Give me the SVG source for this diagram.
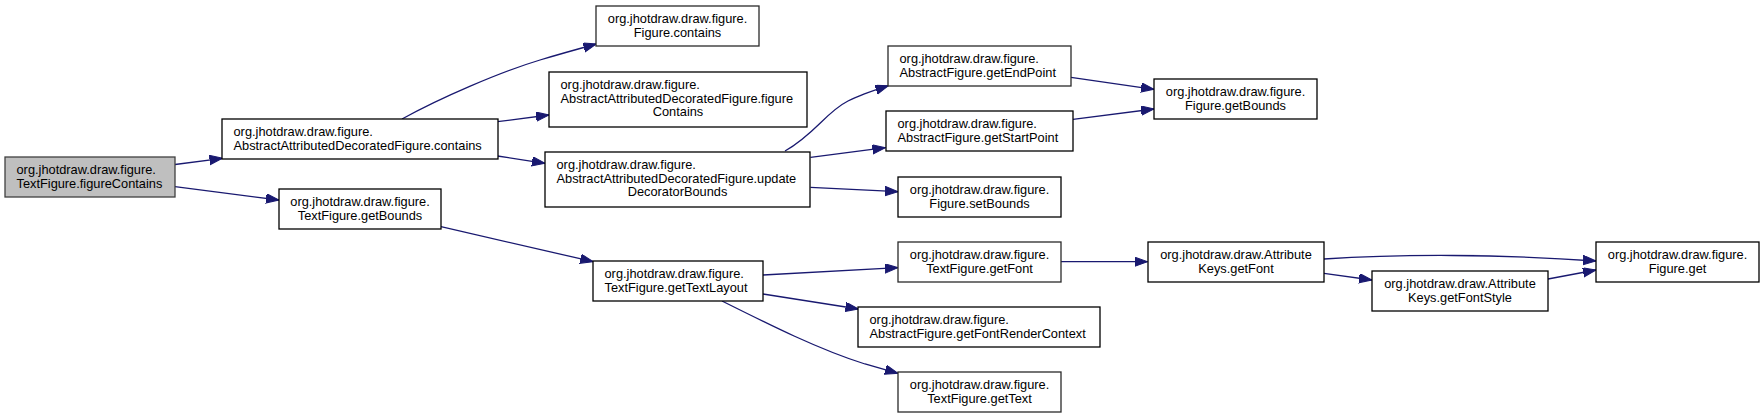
<svg xmlns="http://www.w3.org/2000/svg" width="1764" height="419" viewBox="0 0 1764 419">
<style>
.n rect{fill:#fff;stroke:#000;stroke-width:1.3}
.n.g rect{stroke:#2a2a2a}
.n.root rect{fill:#bfbfbf;stroke:#404040}
.n text{font-family:"Liberation Sans",Arial,sans-serif;font-size:12.8px;fill:#000}
.c{text-anchor:middle}
#edges path{fill:none;stroke:#191970;stroke-width:1.3;marker-end:url(#arr)}
</style>
<defs>
<marker id="arr" markerWidth="15" markerHeight="11" refX="13" refY="4.7" orient="auto" markerUnits="userSpaceOnUse">
<path d="M0,0 L13,4.7 L0,9.4 z" fill="#191970" stroke="#191970" stroke-width="1"/>
</marker>
</defs>
<rect width="1764" height="419" fill="#fff"/>
<g id="edges">
<path d="M175,164.5 L222.5,158.3"/>
<path d="M175,186.7 L279,200"/>
<path d="M402,119 C440,98 500,72 540,60 C560,54 578,49 596.4,44"/>
<path d="M497.5,121.7 L549,115"/>
<path d="M497.5,156 L545,163.3"/>
<path d="M441,226.7 L593.2,261.7"/>
<path d="M785,151 C815,134 826,112 848,101 C858,96 872,91 888.4,85.7"/>
<path d="M810.5,157.3 L885.4,147.7"/>
<path d="M810.5,187.3 L898,191.7"/>
<path d="M1071,77.3 L1154,89.3"/>
<path d="M1073,119.3 L1154,109"/>
<path d="M763,275 L898,267.7"/>
<path d="M763,294 L858.5,309"/>
<path d="M722,301 C770,325 820,350 865,364 L898,373.3"/>
<path d="M1060.7,261.7 L1147.5,261.7"/>
<path d="M1324,259 C1400,254 1500,254 1596,261"/>
<path d="M1324,273.3 L1372,280"/>
<path d="M1548,279 L1596,270"/>
</g>
<g id="n1" class="n root"><rect x="5" y="157" width="170" height="40"/><text x="16.5" y="174.3">org.jhotdraw.draw.figure.</text><text x="16.5" y="187.8">TextFigure.figureContains</text></g>
<g id="n2" class="n"><rect x="222" y="119" width="276" height="40"/><text x="233.5" y="136.3">org.jhotdraw.draw.figure.</text><text x="233.5" y="149.8">AbstractAttributedDecoratedFigure.contains</text></g>
<g id="n3" class="n"><rect x="279" y="189" width="162" height="40"/><text class="c" x="360" y="206.3">org.jhotdraw.draw.figure.</text><text class="c" x="360" y="219.8">TextFigure.getBounds</text></g>
<g id="n4" class="n g"><rect x="596" y="6" width="163" height="40"/><text class="c" x="677.5" y="23.3">org.jhotdraw.draw.figure.</text><text class="c" x="677.5" y="36.8">Figure.contains</text></g>
<g id="n5" class="n"><rect x="549" y="72" width="258" height="55"/><text x="560.5" y="89.3">org.jhotdraw.draw.figure.</text><text x="560.5" y="102.8">AbstractAttributedDecoratedFigure.figure</text><text class="c" x="678" y="116.3">Contains</text></g>
<g id="n6" class="n"><rect x="545" y="152" width="265" height="55"/><text x="556.5" y="169.3">org.jhotdraw.draw.figure.</text><text x="556.5" y="182.8">AbstractAttributedDecoratedFigure.update</text><text class="c" x="677.5" y="196.3">DecoratorBounds</text></g>
<g id="n7" class="n"><rect x="593" y="261" width="170" height="40"/><text x="604.5" y="278.3">org.jhotdraw.draw.figure.</text><text x="604.5" y="291.8">TextFigure.getTextLayout</text></g>
<g id="n8" class="n g"><rect x="888" y="46" width="183" height="40"/><text x="899.5" y="63.3">org.jhotdraw.draw.figure.</text><text x="899.5" y="76.8">AbstractFigure.getEndPoint</text></g>
<g id="n9" class="n"><rect x="886" y="111" width="187" height="40"/><text x="897.5" y="128.3">org.jhotdraw.draw.figure.</text><text x="897.5" y="141.8">AbstractFigure.getStartPoint</text></g>
<g id="n10" class="n"><rect x="898" y="177" width="163" height="40"/><text class="c" x="979.5" y="194.3">org.jhotdraw.draw.figure.</text><text class="c" x="979.5" y="207.8">Figure.setBounds</text></g>
<g id="n11" class="n"><rect x="1154" y="79" width="163" height="40"/><text class="c" x="1235.5" y="96.3">org.jhotdraw.draw.figure.</text><text class="c" x="1235.5" y="109.8">Figure.getBounds</text></g>
<g id="n12" class="n g"><rect x="898" y="242" width="163" height="40"/><text class="c" x="979.5" y="259.3">org.jhotdraw.draw.figure.</text><text class="c" x="979.5" y="272.8">TextFigure.getFont</text></g>
<g id="n13" class="n"><rect x="858" y="307" width="242" height="40"/><text x="869.5" y="324.3">org.jhotdraw.draw.figure.</text><text x="869.5" y="337.8">AbstractFigure.getFontRenderContext</text></g>
<g id="n14" class="n g"><rect x="898" y="372" width="163" height="40"/><text class="c" x="979.5" y="389.3">org.jhotdraw.draw.figure.</text><text class="c" x="979.5" y="402.8">TextFigure.getText</text></g>
<g id="n15" class="n"><rect x="1148" y="242" width="176" height="40"/><text class="c" x="1236" y="259.3">org.jhotdraw.draw.Attribute</text><text class="c" x="1236" y="272.8">Keys.getFont</text></g>
<g id="n16" class="n"><rect x="1372" y="271" width="176" height="40"/><text class="c" x="1460" y="288.3">org.jhotdraw.draw.Attribute</text><text class="c" x="1460" y="301.8">Keys.getFontStyle</text></g>
<g id="n17" class="n"><rect x="1596" y="242" width="163" height="40"/><text class="c" x="1677.5" y="259.3">org.jhotdraw.draw.figure.</text><text class="c" x="1677.5" y="272.8">Figure.get</text></g>
</svg>
